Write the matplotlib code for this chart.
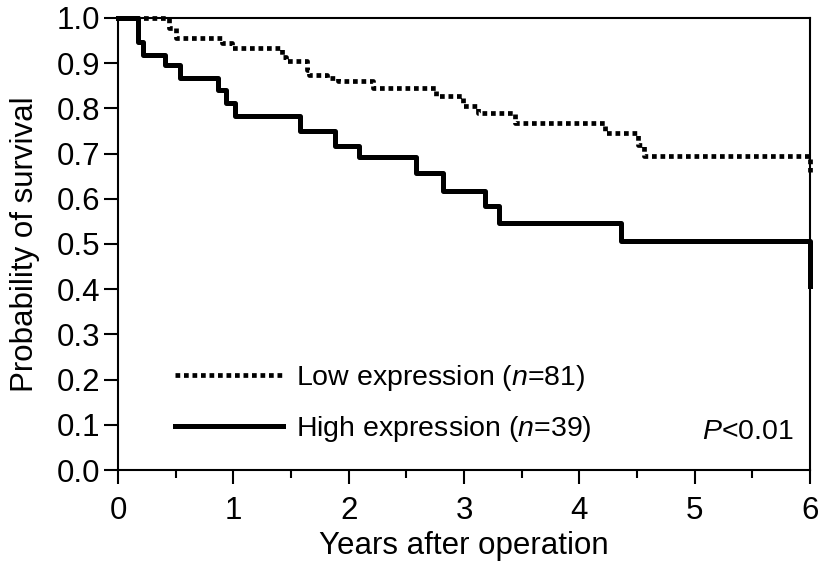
import matplotlib.pyplot as plt
from matplotlib import font_manager

# Kaplan-Meier step curves (years, survival probability)
low_years = [0, 0.44, 0.50, 0.90, 0.99, 1.42, 1.46, 1.64, 1.66, 1.81, 1.91,
             2.21, 2.76, 2.99, 3.12, 3.44, 4.22, 4.51, 4.56, 6.0]
low_surv = [1.0, 0.978, 0.955, 0.944, 0.933, 0.914, 0.905, 0.885, 0.874, 0.867, 0.861,
            0.844, 0.827, 0.806, 0.789, 0.767, 0.745, 0.719, 0.695, 0.66]

high_years = [0, 0.176, 0.22, 0.41, 0.54, 0.87, 0.94, 1.01, 1.58, 1.88, 2.09,
              2.58, 2.82, 3.18, 3.30, 4.36, 6.0]
high_surv = [1.0, 0.946, 0.918, 0.896, 0.867, 0.841, 0.812, 0.783, 0.751, 0.717, 0.692,
             0.656, 0.618, 0.584, 0.546, 0.507, 0.406]

low_label = 'Low expression ($\\mathit{n}$=81)'
high_label = 'High expression ($\\mathit{n}$=39)'
p_text = '$\\mathit{P}$<0.01'

names = {f.name for f in font_manager.fontManager.ttflist}
family = 'Liberation Sans Narrow' if 'Liberation Sans Narrow' in names else 'Liberation Sans'
plt.rcParams['font.family'] = [family, 'DejaVu Sans']
plt.rcParams['mathtext.fontset'] = 'custom'
plt.rcParams['mathtext.it'] = family + ':italic'
plt.rcParams['mathtext.rm'] = family

fs = 22.5
fs_leg = 20.5

fig = plt.figure(figsize=(8.22, 5.62), dpi=100)
ax = fig.add_axes([0.1436, 0.1637, 0.9854 - 0.1436, 0.968 - 0.1637])

ax.step(low_years, low_surv, where='post', color='black', lw=3.4,
        linestyle=(0, (1, 0.8)), dash_capstyle='butt', clip_on=False, label=low_label)
ax.step(high_years, high_surv, where='post', color='black', lw=3.6,
        clip_on=False, label=high_label)

ax.set_xlim(0, 6)
ax.set_ylim(0, 1.0)
ax.set_xticks(range(7))
ax.set_xticks([0.5, 1.5, 2.5, 3.5, 4.5, 5.5], minor=True)
ax.set_yticks([i / 10 for i in range(11)])
ax.set_yticklabels([f'{i / 10:.1f}' for i in range(11)])

for s in ax.spines.values():
    s.set_linewidth(1.5)
ax.tick_params(axis='both', which='major', direction='out', length=10, width=1.5,
               labelsize=fs)
ax.tick_params(axis='x', which='major', pad=9)
ax.tick_params(axis='y', which='major', pad=3)
ax.tick_params(axis='x', which='minor', direction='out', length=6, width=1.5)

ax.set_xlabel('Years after operation', fontsize=fs, labelpad=3)
ax.set_ylabel('Probability of survival', fontsize=fs, labelpad=12)

ax.legend(loc='lower left', bbox_to_anchor=(0.082, 0.058), frameon=False, fontsize=fs_leg,
          handlelength=3.8, handletextpad=0.46, labelspacing=0.72, borderpad=0,
          borderaxespad=0)
ax.text(0.976, 0.084, p_text, transform=ax.transAxes, ha='right', va='center',
        fontsize=fs_leg)

fig.savefig('out.png', dpi=100)
